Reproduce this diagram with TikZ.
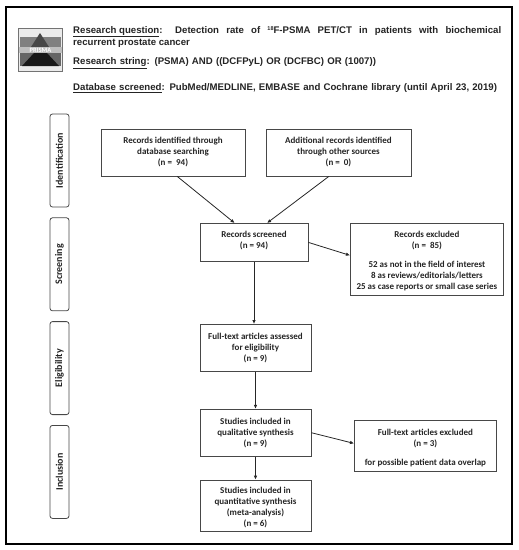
\documentclass[tikz,border=0pt]{standalone}
\usepackage{fontspec}
\setmainfont{Carlito}
\newfontfamily\headfont{Liberation Sans}
\usepackage{tikz}
\usetikzlibrary{positioning,arrows.meta}
\definecolor{framegray}{gray}{0.28}
\definecolor{inktext}{gray}{0.14}
\newcommand{\pushdown}{\rule{0pt}{10.5pt}}
\newcommand{\pushup}{\rule[-6pt]{0pt}{6pt}}
\tikzset{box node/.style={rectangle,draw=framegray,line width=0.8pt,inner sep=0pt,align=center,text=inktext,font=\fontsize{9}{11}\selectfont\bfseries},
	phase node/.style={rectangle,rounded corners=2.5pt,draw=framegray,line width=0.8pt,inner sep=0pt,minimum width=19pt,minimum height=93pt},
	phase text/.style={rotate=90,text=inktext,font=\fontsize{10}{11}\selectfont\bfseries},
	head node/.style={anchor=north west,inner sep=0pt,text width=428pt,text=inktext,font=\headfont\fontsize{9.63}{12}\selectfont\bfseries},
	link/.style={draw=black!85,line width=0.8pt,-{Latex[length=4pt,width=3.6pt]}},
}

\begin{document}
\begin{tikzpicture}[x=1pt,y=-1pt]
	\useasboundingbox (0,0) rectangle (519,550);
	\draw[line width=2.2pt] (6,7) rectangle (512,544);
	% logo
	\fill[black!55] (18,28) rectangle (63,72);
	\fill[black!8] (19,29) rectangle (62,71);
	\fill[black!50] (20,37) rectangle (61,47);
	\fill[black!60] (20,53) rectangle (61,66);
	\fill[black!72] (40,33) -- (31,47) -- (49,47) -- cycle;
	\fill[black!90] (34,53) -- (22,66) -- (59,66) -- (47,53) -- cycle;
	\fill[black!25] (19,47) rectangle (62,53);
	\node[inner sep=0pt,text=white,font=\fontsize{6.5}{6.5}\selectfont\bfseries] (logo) at (40.5,50) {PRISMA};
	% header
	\node[head node,align=justify] (question) at (73,26) {\underline{Research question}: Detection rate of \raisebox{3pt}{\fontsize{5.5}{6}\selectfont 18}F-PSMA PET/CT in patients with biochemical\linebreak recurrent prostate cancer};
	\node[head node] (string) [below = 10pt of question.south west,anchor=north west] {\underline{Research string}: (PSMA) AND ((DCFPyL) OR (DCFBC) OR (1007))};
	\node[head node] (database) [below = 15pt of string.south west,anchor=north west] {\underline{Database screened}: PubMed/MEDLINE, EMBASE and Cochrane library (until April 23, 2019)};
	% phases
	\node[phase node] (identification) at (59.5,160.5) {};
	\node[phase node] (screening) [below = 10pt of identification] {};
	\node[phase node] (eligibility) [below = 10pt of screening] {};
	\node[phase node] (inclusion) [below = 10pt of eligibility] {};
	\node[phase text] at (identification) {Identification};
	\node[phase text] at (screening) {Screening};
	\node[phase text] at (eligibility) {Eligibility};
	\node[phase text] at (inclusion) {Inclusion};
	% boxes
	\node[box node,minimum width=144pt,minimum height=47pt] (identified) at (173,152.5) {Records identified through\\database searching\\(n =\ \ 94)};
	\node[box node,minimum width=145pt,minimum height=47pt] (additional) at (338.5,152.5) {Additional records identified\\through other sources\\(n =\ \ 0)};
	\node[box node,minimum width=108pt,minimum height=38pt,anchor=north] (screened) at (254,223) {Records screened\\(n = 94)\pushup};
	\node[box node,minimum width=153pt,minimum height=72pt,anchor=north west] (excluded) at (350,223) {\pushdown Records excluded\\(n =\ \ 85)\\[8pt]52 as not in the field of interest\\8 as reviews/editorials/letters\\25 as case reports or small case series};
	\node[box node,minimum width=111pt,minimum height=47pt,anchor=north] (fulltext) at (255.5,324) {Full-text articles assessed\\for eligibility\\(n = 9)};
	\node[box node,minimum width=111pt,minimum height=47pt] (qualitative) [below = 37pt of fulltext] {Studies included in\\qualitative synthesis\\(n = 9)};
	\node[box node,minimum width=111pt,minimum height=51pt] (quantitative) [below = 23pt of qualitative] {\pushdown Studies included in\\quantitative synthesis\\(meta-analysis)\\(n = 6)};
	\node[box node,minimum width=142pt,minimum height=51pt,anchor=north west] (overlap) at (354,420) {\pushdown Full-text articles excluded\\(n = 3)\\[8pt]for possible patient data overlap};
	% arrows
	\path[link] (identified.-80) -- (screened.135);
	\path[link] (additional.-112) -- (screened.56);
	\path[link] (screened.east) -- (excluded.177);
	\path[link] (screened.south) -- (screened.south |- fulltext.north);
	\path[link] (fulltext) -- (qualitative);
	\path[link] (qualitative.east) -- (overlap.178);
	\path[link] (qualitative) -- (quantitative);
\end{tikzpicture}
\end{document}
